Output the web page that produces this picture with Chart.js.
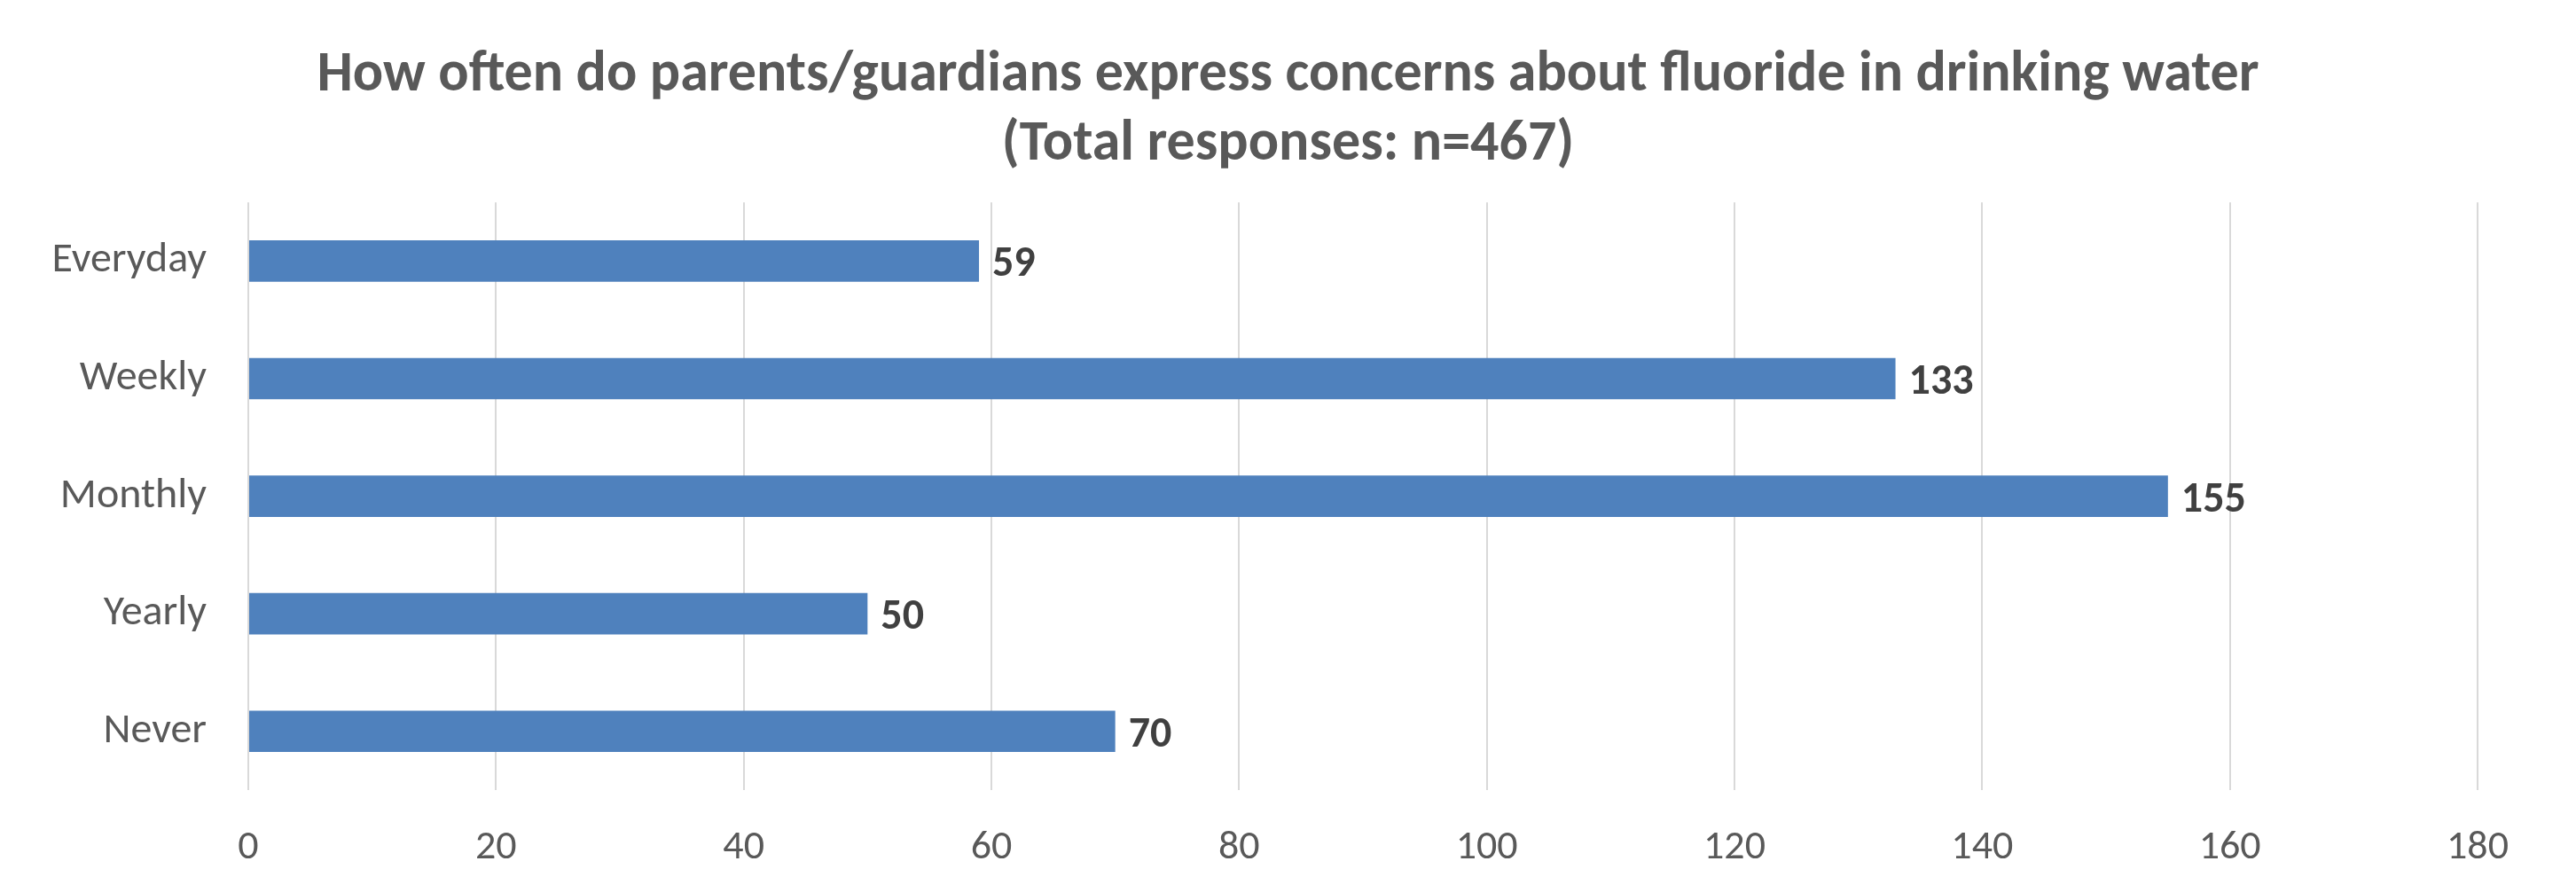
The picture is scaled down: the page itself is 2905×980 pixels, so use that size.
<!DOCTYPE html>
<html>
<head>
<meta charset="utf-8">
<script src="https://cdn.jsdelivr.net/npm/chart.js@4"></script>
<style>
  html, body { margin: 0; padding: 0; background: #fff; }
</style>
</head>
<body>
<canvas id="BarChart1" width="2905" height="980"></canvas>
<script>
// survey answers
const categories = ['Everyday', 'Weekly', 'Monthly', 'Yearly', 'Never'];
const responses = [59, 133, 155, 50, 70];
const titleLines = [
    'How often do parents/guardians express concerns about fluoride in drinking water',
    '(Total responses: n=467)'
];
const xMin = 0;
const xMax = 180;
const xStep = 20;

const fontFamily = "Carlito, Lato, 'Open Sans', sans-serif";

// count printed just past the end of each bar
const barValueLabels = {
    id: 'barValueLabels',
    afterDatasetsDraw(chart) {
        const ctx = chart.ctx;
        const meta = chart.getDatasetMeta(0);
        const values = chart.data.datasets[0].data;
        ctx.save();
        ctx.font = 'bold 48px ' + fontFamily;
        ctx.fillStyle = '#404040';
        ctx.textAlign = 'left';
        ctx.textBaseline = 'middle';
        meta.data.forEach((bar, i) => {
            ctx.fillText(values[i], bar.x + 15, bar.y + 5);
        });
        ctx.restore();
    }
};

// centre the title on the whole canvas, not on the padded area
const fullWidthTitle = {
    id: 'fullWidthTitle',
    afterLayout(chart) {
        const t = chart.titleBlock;
        if (!t) return;
        t.left = 0;
        t.right = chart.width;
        t.width = chart.width;
    }
};

const ctx1 = document.getElementById('BarChart1');
const BarChart1 = new Chart(ctx1, {
    type: 'bar',
    data: {
        labels: categories,
        datasets: [{
            data: responses,
            backgroundColor: '#4F81BD',
            categoryPercentage: 1.0,
            barPercentage: 0.352
        }]
    },
    plugins: [barValueLabels, fullWidthTitle],
    options: {
        indexAxis: 'y',
        responsive: false,
        animation: false,
        devicePixelRatio: 1,
        layout: {
            padding: {left: 0, right: 111, top: 0, bottom: 0}
        },
        plugins: {
            title: {
                display: true,
                text: titleLines,
                color: '#595959',
                font: {family: fontFamily, size: 64, weight: 'bold', lineHeight: 1.22},
                padding: {top: 47, bottom: 25}
            },
            legend: {
                display: false
            },
            tooltip: {
                enabled: false
            }
        },
        scales: {
            x: {
                min: xMin,
                max: xMax,
                ticks: {
                    stepSize: xStep,
                    color: '#595959',
                    font: {family: fontFamily, size: 46},
                    padding: 38
                },
                grid: {
                    color: '#d9d9d9',
                    lineWidth: 2,
                    drawTicks: false
                },
                border: {display: false},
                afterFit(scale) {
                    scale.height = 89;
                }
            },
            y: {
                ticks: {
                    color: '#595959',
                    font: {family: fontFamily, size: 48},
                    padding: 47
                },
                grid: {display: false, drawTicks: false},
                border: {display: false},
                afterFit(scale) {
                    scale.width = 280;
                }
            }
        }
    }
});
</script>
</body>
</html>
